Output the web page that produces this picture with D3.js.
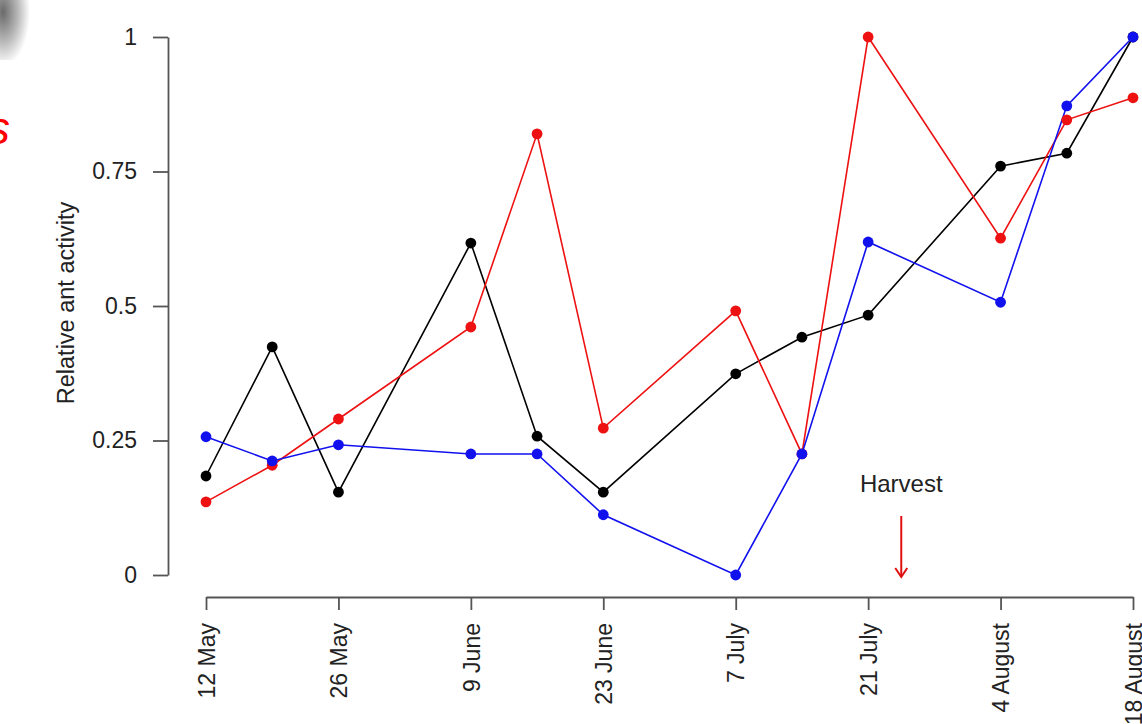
<!DOCTYPE html>
<html><head><meta charset="utf-8">
<script src="https://cdn.jsdelivr.net/npm/d3@7"></script>
<style>
html,body{margin:0;padding:0;background:#fff;overflow:hidden;}
text{font-family:"Liberation Sans",Arial,sans-serif;}
</style></head>
<body><svg id="c" width="1142" height="724"></svg>
<script>
const dates = ["2015-05-12","2015-05-19","2015-05-26","2015-06-09","2015-06-16","2015-06-23","2015-07-07","2015-07-14","2015-07-21","2015-08-04","2015-08-11","2015-08-18"];
const blackVals = [0.184,0.424,0.154,0.617,0.258,0.154,0.374,0.442,0.483,0.760,0.784,1.0];
const redVals   = [0.136,0.204,0.290,0.461,0.820,0.273,0.491,0.225,1.0,0.626,0.846,0.887];
const blueVals  = [0.257,0.212,0.242,0.225,0.225,0.112,0.0,0.225,0.619,0.507,0.872,1.0];
const tickDates = ["2015-05-12","2015-05-26","2015-06-09","2015-06-23","2015-07-07","2015-07-21","2015-08-04","2015-08-18"];
const tickLabels = ["12 May","26 May","9 June","23 June","7 July","21 July","4 August","18 August"];
const yTicks = [0,0.25,0.5,0.75,1];
const yTickLabels = ["0","0.25","0.5","0.75","1"];
const harvestDate = "2015-07-24T12:00:00Z";

const parse = d3.utcParse("%Y-%m-%d");
const svg = d3.select("#c");
const FONT = "Liberation Sans, Arial, sans-serif";

const x = d3.scaleUtc().domain([parse("2015-05-12"), parse("2015-08-18")]).range([206,1133]);
const y = d3.scaleLinear().domain([0,1]).range([575,37]);

// decorative top-left remnants
const defs = svg.append("defs");
const g1 = defs.append("radialGradient").attr("id","gr").attr("cx","0.1").attr("cy","0.2").attr("r","0.9");
g1.append("stop").attr("offset","0%").attr("stop-color","#6a6a6a");
g1.append("stop").attr("offset","55%").attr("stop-color","#b8b8b8");
g1.append("stop").attr("offset","100%").attr("stop-color","#ffffff");
svg.append("rect").attr("x",0).attr("y",0).attr("width",30).attr("height",60).attr("fill","url(#gr)");
svg.append("text").attr("x",-13).attr("y",144).attr("fill","#ff0000").attr("font-size",46).attr("font-style","italic")
  .attr("font-family","Open Sans, Liberation Sans, sans-serif").text("s");

// y axis
const yAxis = d3.axisLeft(y).tickValues(yTicks).tickFormat((d,i)=>yTickLabels[i]).tickSize(15).tickPadding(16).tickSizeOuter(0);
const ga = svg.append("g").attr("transform","translate(168,0)").call(yAxis);
ga.attr("font-size",23).attr("font-family",FONT);
ga.selectAll("path,line").attr("stroke","#555").attr("stroke-width",1.8);
ga.selectAll("text").attr("fill","#222");

// x axis
const xAxis = d3.axisBottom(x).tickValues(tickDates.map(parse)).tickFormat((d,i)=>tickLabels[i]).tickSize(13).tickSizeOuter(0);
const gx = svg.append("g").attr("transform","translate(0,597)").call(xAxis);
gx.attr("font-size",23).attr("font-family",FONT);
gx.selectAll("path,line").attr("stroke","#555").attr("stroke-width",1.8);
gx.selectAll("text").attr("fill","#222")
  .attr("text-anchor","end").attr("transform","rotate(-90)").attr("x",-26).attr("y",0).attr("dy","0.36em");

// y title
svg.append("text").attr("transform","translate(74,303) rotate(-90)").attr("text-anchor","middle")
  .attr("font-size",23.5).attr("fill","#222").text("Relative ant activity");

// series
const series = [
  {vals: blackVals, color:"#000000"},
  {vals: redVals, color:"#ee1111"},
  {vals: blueVals, color:"#1111ee"}
];
const line = d3.line().x(d=>x(d.date)).y(d=>y(d.v));
series.forEach(s=>{
  const data = dates.map((d,i)=>({date:parse(d), v:s.vals[i]}));
  svg.append("path").datum(data).attr("d",line).attr("fill","none").attr("stroke",s.color).attr("stroke-width",1.6);
});
series.forEach(s=>{
  const data = dates.map((d,i)=>({date:parse(d), v:s.vals[i]}));
  svg.append("g").selectAll("circle").data(data).join("circle")
    .attr("cx",d=>x(d.date)).attr("cy",d=>y(d.v)).attr("r",5.4).attr("fill",s.color);
});

// harvest annotation
const hx = x(d3.isoParse(harvestDate));
svg.append("text").attr("x",hx).attr("y",492).attr("text-anchor","middle").attr("font-size",24).attr("fill","#222").text("Harvest");
svg.append("line").attr("x1",hx).attr("x2",hx).attr("y1",516).attr("y2",576).attr("stroke","#e01010").attr("stroke-width",2);
svg.append("path").attr("d",`M${hx-6},${568} L${hx},${577} L${hx+6},${568}`).attr("fill","none").attr("stroke","#e01010").attr("stroke-width",2);
</script></body></html>
